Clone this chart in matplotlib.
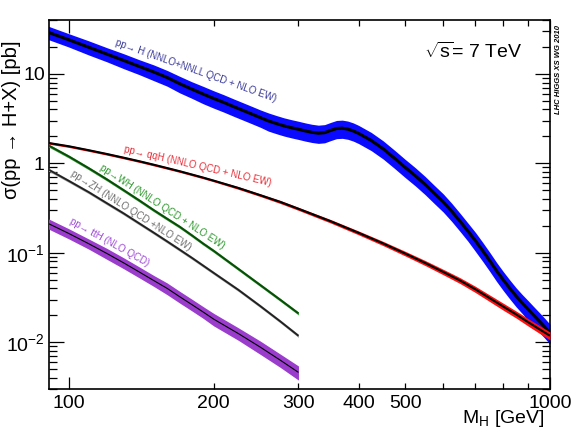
import numpy as np
import matplotlib
matplotlib.use('Agg')
import matplotlib.pyplot as plt
from matplotlib.ticker import FixedLocator, FuncFormatter, LogLocator

plt.rcParams['font.family'] = ['Liberation Sans', 'DejaVu Sans']
plt.rcParams['mathtext.fontset'] = 'custom'
plt.rcParams['mathtext.rm'] = 'Liberation Sans'
plt.rcParams['mathtext.it'] = 'Liberation Sans:italic'
plt.rcParams['mathtext.bf'] = 'Liberation Sans:bold'

# ---------------- data ----------------
mass_ggH = [90, 100, 110, 120, 130, 140, 150, 160, 170, 180, 190, 200, 210, 220, 230, 240, 250,
            260, 270, 280, 290, 300, 310, 320, 330, 340, 350, 360, 370, 380, 390, 400, 425,
            450, 475, 500, 525, 550, 575, 600, 625, 650, 675, 700, 725, 750, 775, 800, 825,
            850, 875, 900, 925, 950, 975, 1000]
xs_ggH = [29.5, 24.0, 19.8, 16.6, 14.1, 12.1, 10.5, 9.1, 7.75, 6.75, 5.95, 5.3, 4.78, 4.3, 3.9, 3.55, 3.24,
          2.97, 2.78, 2.62, 2.5, 2.4, 2.3, 2.22, 2.17, 2.2, 2.33, 2.45, 2.47, 2.41, 2.3, 2.16, 1.8,
          1.45, 1.14, 0.9, 0.725, 0.58, 0.46, 0.37, 0.29, 0.225, 0.175, 0.136, 0.105, 0.081, 0.0625, 0.0495, 0.040,
          0.0328, 0.0276, 0.0234, 0.0200, 0.0172, 0.0148, 0.0127]
unc_ggH = [0.17, 0.17, 0.18, 0.18, 0.19, 0.19, 0.20, 0.20, 0.21, 0.21, 0.22, 0.22, 0.22, 0.22, 0.22, 0.22, 0.22,
           0.23, 0.23, 0.23, 0.23, 0.23, 0.23, 0.23, 0.23, 0.23, 0.23, 0.23, 0.23, 0.23, 0.23, 0.23, 0.23,
           0.23, 0.23, 0.23, 0.23, 0.23, 0.23, 0.23, 0.23, 0.23, 0.23, 0.24, 0.24, 0.24, 0.24, 0.24, 0.24,
           0.24, 0.24, 0.25, 0.25, 0.25, 0.25, 0.25]

mass_qqH = [90, 100, 110, 120, 130, 140, 150, 160, 170, 180, 190, 200, 225, 250, 275, 300, 350,
            400, 450, 500, 550, 600, 650, 700, 750, 800, 850, 900, 950, 1000]
xs_qqH = [1.70, 1.55, 1.40, 1.27, 1.155, 1.055, 0.965, 0.885, 0.815, 0.75, 0.693, 0.64, 0.53, 0.44, 0.37, 0.31, 0.225,
          0.167, 0.127, 0.098, 0.077, 0.061, 0.049, 0.039, 0.031, 0.025, 0.0205, 0.0168, 0.014, 0.0118]
unc_qqH = [0.03, 0.03, 0.03, 0.03, 0.03, 0.03, 0.03, 0.03, 0.03, 0.03, 0.03, 0.03, 0.035, 0.035, 0.04, 0.04, 0.045,
           0.05, 0.055, 0.06, 0.065, 0.07, 0.075, 0.08, 0.085, 0.09, 0.09, 0.095, 0.1, 0.1]

mass_VH = [90, 100, 110, 120, 130, 140, 150, 160, 170, 180, 190, 200, 225, 250, 275, 300]
xs_WH = [1.62, 1.19, 0.88, 0.66, 0.50, 0.385, 0.30, 0.24, 0.195, 0.157, 0.127, 0.105, 0.066, 0.0435, 0.0298, 0.021]
xs_ZH = [0.87, 0.635, 0.475, 0.357, 0.275, 0.213, 0.168, 0.134, 0.108, 0.088, 0.072, 0.0595, 0.0385, 0.0253, 0.0171, 0.0118]
unc_VH = [0.04, 0.04, 0.04, 0.04, 0.04, 0.04, 0.04, 0.04, 0.04, 0.04, 0.04, 0.04, 0.04, 0.04, 0.04, 0.04]

mass_ttH = [90, 100, 110, 120, 130, 140, 150, 160, 170, 180, 190, 200, 225, 250, 275, 300]
xs_ttH = [0.216, 0.164, 0.126, 0.098, 0.077, 0.061, 0.049, 0.040, 0.0322, 0.0264, 0.0218, 0.0181, 0.0125, 0.0088, 0.0063, 0.0046]
unc_ttH = [0.13, 0.13, 0.13, 0.14, 0.14, 0.14, 0.14, 0.15, 0.15, 0.15, 0.15, 0.16, 0.16, 0.17, 0.17, 0.18]

x_major = [100, 1000]
x_minor = [200, 300, 400, 500, 600, 700, 800, 900]
x_minor_labeled = [200, 300, 400, 500]
y_labels = {0.01: '$10^{-2}$', 0.1: '$10^{-1}$', 1.0: '1', 10.0: '10'}

labels = [
    ("pp\u2192 H (NNLO+NNLL QCD + NLO EW)", 184, 10.9, -19.5, '#3a3a9a'),
    ("pp\u2192 qqH (NNLO QCD + NLO EW)", 185, 0.92, -13.0, '#e8303a'),
    ("pp\u2192WH (NNLO QCD + NLO EW)", 156.5, 0.328, -33.0, '#2e9a2e'),
    ("pp\u2192ZH (NNLO QCD +NLO EW)", 134.7, 0.30, -32.5, '#707070'),
    ("pp\u2192 ttH (NLO QCD)", 121.5, 0.1305, -29.0, '#a04ad8'),
]

# ---------------- figure ----------------
fig = plt.figure(figsize=(5.71, 4.28), dpi=100)
ax = fig.add_axes([49 / 571, 1 - 389 / 428, 501 / 571, 369 / 428])
ax.set_xscale('log')
ax.set_yscale('log')


def band(m, xs, unc, color, line_color, lw, z):
    m = np.asarray(m, float)
    xs = np.asarray(xs, float)
    u = np.asarray(unc, float)
    ax.fill_between(m, xs * (1 - u), xs * (1 + u), color=color, lw=0, zorder=z)
    ax.plot(m, xs, color=line_color, lw=lw, zorder=z + 0.5, solid_capstyle='butt',
            solid_joinstyle='round')


band(mass_ggH, xs_ggH, unc_ggH, '#0a0aff', 'black', 2.2, 2)
band(mass_qqH, xs_qqH, unc_qqH, '#ff1010', 'black', 1.5, 3)
band(mass_VH, xs_WH, unc_VH, '#3aa03a', '#0a4a0a', 1.3, 3)
band(mass_VH, xs_ZH, unc_VH, '#a0a0a0', '#202020', 1.3, 3)
band(mass_ttH, xs_ttH, unc_ttH, '#9a3ccc', 'black', 0.8, 3)

for txt, xm, yv, rot, col in labels:
    ax.text(xm, yv, txt, rotation=rot, rotation_mode='anchor', ha='center', va='center',
            fontsize=7, color=col, zorder=5)

ax.set_xlim(90.9, 1000)
ax.set_ylim(0.003, 40)

ax.xaxis.set_major_locator(FixedLocator(x_major))
ax.xaxis.set_minor_locator(FixedLocator(x_minor))
ax.xaxis.set_major_formatter(FuncFormatter(lambda v, p: f'{v:.0f}'))
ax.xaxis.set_minor_formatter(FuncFormatter(lambda v, p: f'{v:.0f}' if round(v) in x_minor_labeled else ''))

ax.yaxis.set_major_locator(LogLocator(base=10, numticks=10))
ax.yaxis.set_minor_locator(LogLocator(base=10, subs=np.arange(2, 10), numticks=20))


def yfmt(v, p):
    for k, s in y_labels.items():
        if abs(v - k) / k < 1e-6:
            return s
    return ''


ax.yaxis.set_major_formatter(FuncFormatter(yfmt))

ax.tick_params(axis='x', which='major', direction='in', length=9, width=0.9, top=True,
               labelsize=14, pad=4)
ax.tick_params(axis='x', which='minor', direction='in', length=4.5, width=0.9, top=True,
               labelsize=14, pad=4)
ax.tick_params(axis='y', which='major', direction='in', length=11, width=0.9, right=True,
               labelsize=14, pad=3)
ax.tick_params(axis='y', which='minor', direction='in', length=6, width=0.9, right=True)
for s in ax.spines.values():
    s.set_linewidth(1.2)

ax.text(0.847, 0.913, "$\\sqrt{\\mathrm{s}}$= 7 TeV", transform=ax.transAxes, ha='center', va='center',
        fontsize=14)

fig.text(0.021, 0.72, "\u03c3(pp \u2192 H+X) [pb]", rotation=90, ha='center', va='center',
         fontsize=14.5)
fig.text(545 / 571, 0.012, "M$_\\mathrm{H}$ [GeV]", ha='right', va='baseline', fontsize=14)
fig.text(558 / 571, 1 - 70 / 428, "LHC HIGGS XS WG 2010", rotation=90, ha='center', va='center',
         fontsize=5.5, fontweight='bold', fontstyle='italic')

fig.savefig('out.png', dpi=100)
